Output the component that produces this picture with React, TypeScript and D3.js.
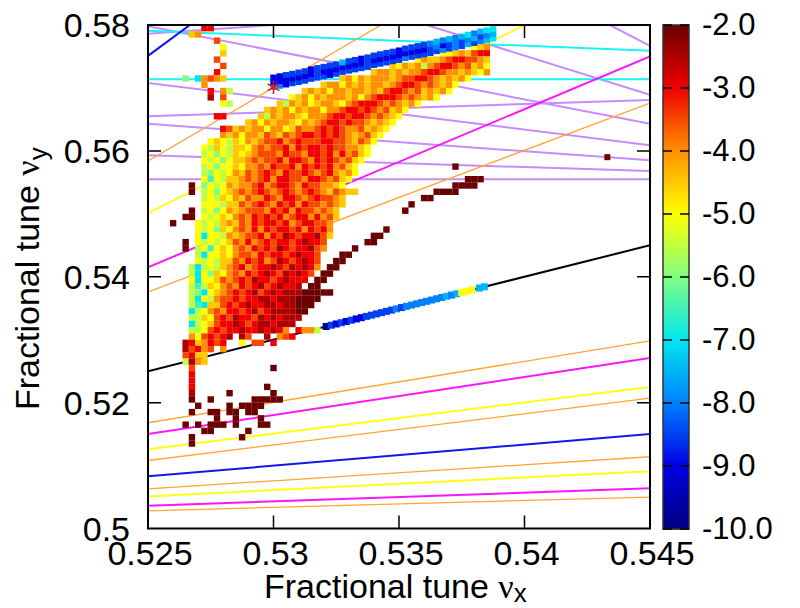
import React from 'react';
import * as d3 from 'd3';

// tick values and labels
const xTicks = [0.525, 0.53, 0.535, 0.54, 0.545];
const xTickLabels = ['0.525', '0.53', '0.535', '0.54', '0.545'];
const yTicks = [0.5, 0.52, 0.54, 0.56, 0.58];
const yTickLabels = ['0.5', '0.52', '0.54', '0.56', '0.58'];
const cbTicks = [-2, -3, -4, -5, -6, -7, -8, -9, -10];

// colour map: log10 value -> colour
const cbStops = [-10, -9, -8, -7, -6, -5, -4, -3, -2];
const cbColors = ['#000080', '#0000e6', '#0080ff', '#00e6f0', '#80ff80', '#ffff00', '#ff9000', '#f00000', '#6a0000'];

// resonance lines, [nux0, nuy0, nux1, nuy1]
const purpleLines = [
  [0.525, 0.5798, 0.545, 0.5643],
  [0.5361, 0.58, 0.545, 0.5689],
  [0.5434, 0.58, 0.545, 0.5767],
  [0.525, 0.5786, 0.53, 0.58],
  [0.525, 0.5655, 0.545, 0.5681],
  [0.525, 0.5708, 0.545, 0.5609],
  [0.525, 0.5643, 0.545, 0.5585],
  [0.525, 0.5593, 0.545, 0.5568],
  [0.525, 0.5555, 0.545, 0.5555],
];
const cyanLines = [
  [0.525, 0.5791, 0.545, 0.5759],
  [0.525, 0.5714, 0.545, 0.5714],
];
const orangeLines = [
  [0.525, 0.5584, 0.53428, 0.58],
  [0.525, 0.5376, 0.545, 0.5676],
  [0.525, 0.5168, 0.545, 0.5298],
  [0.525, 0.5108, 0.545, 0.5207],
  [0.525, 0.5063, 0.545, 0.5114],
  [0.525, 0.5028, 0.545, 0.505],
];
const yellowLines = [
  [0.525, 0.5501, 0.54, 0.58],
  [0.525, 0.5126, 0.545, 0.5225],
  [0.525, 0.5051, 0.545, 0.5091],
];
const magentaLines = [
  [0.525, 0.5415, 0.545, 0.575],
  [0.525, 0.515, 0.545, 0.5271],
  [0.525, 0.5036, 0.545, 0.5064],
];
const blueLines = [
  [0.525, 0.5751, 0.52667, 0.58],
  [0.525, 0.5083, 0.545, 0.515],
];
const blackLines = [[0.525, 0.525, 0.545, 0.545]];

// tune footprint on a grid: each char is a cell, '.' is empty
// value = -2 - n/2 with n read as base 36 digit
const gridX0 = 0.526;
const gridDx = 0.00025;
const gridY0 = 0.5795;
const gridDy = 0.001;
const d = (n: number) => '.'.repeat(n);
const gridRows = [
  d(5) + '22',
  '...54',
  d(7) + '3',
  d(8) + '6' + d(39) + '654',
  d(8) + '5' + d(34) + '66545322',
  d(7) + '3' + d(31) + '645543223345',
  d(8) + '3' + d(26) + '5645474322343546',
  d(7) + '2' + d(24) + '5445454432234454564',
  '..8.a4345' + d(18) + '546454445433223454546',
  d(5) + '4' + d(18) + '5446454544543223434546',
  '......2.47' + d(11) + '545464454454532234354546',
  '......1.3' + d(10) + '654645444546432223434546',
  d(8) + '67' + d(7) + '57454654456432223434546',
  d(15) + '54546454464432232343546',
  d(7) + '22' + d(5) + '57454456444322322343456',
  d(12) + '546454456454322323345456',
  d(8) + '235454464465344323234435456',
  d(8) + '45464453453432232323454356',
  d(6) + '656756454332432333223345346',
  d(5) + '675675564343324232232334456',
  d(5) + '768675654333423342232424356',
  d(5) + '67686554343324223423234356',
  d(5) + '7686656443423324232324356' + d(15) + '0',
  d(5) + '7867645343234233234324546',
  d(5) + '696755434324223342234356' + d(18) + '000',
  '...0.' + '86764544324322342334456' + d(17) + '0000',
  '...0.' + '7686543432343234323453455' + d(12) + '0000',
  d(5) + '76756453442342234323345' + d(12) + '00',
  d(5) + '66675534323423242334345' + d(10) + '0',
  '...0.' + '7686454333423242334345' + d(10) + '0',
  '..00.' + '6765643423232432242435',
  '0...' + '6767545342322324322334',
  '....' + '6768564342423223242324' + d(8) + '0',
  '....' + '6a66745433242312322135' + d(6) + '00',
  '..0.' + '676765342432322321223' + d(6) + '00',
  '..0.' + '769656434232312322134' + d(4) + '0',
  '....' + '7a665643342322321223' + '...00',
  '....' + '67675534232431232123' + '..00',
  '...' + '7a7675432432212312124' + '.00',
  '...' + '7a685643423212312123' + '.00',
  '...' + '6a66534323122321222' + '.00',
  '...' + '797564342321321221' + '.00',
  '...' + '78a6543232132121' + '1100000',
  '...' + '7a674332322112111' + '0000',
  '...' + '79a5532321221121' + '1000',
  '...' + 'a764342232132111' + '100',
  '...' + '7756323122312121' + '11',
  '...' + 'a76532212321121' + '11',
  '...' + '776323221221212' + '4.2447',
  '...4632321.13..1.432',
  '..1254232..6.33.2',
  '..13243.4',
  '..3255',
  '..7145',
  '...3' + d(12) + '0',
  '...2',
  '...2',
  '...2' + d(11) + '0',
  '...1' + d(5) + '0' + d(6) + '0',
  '...0..0' + d(6) + '00000',
  '....0' + d(4) + '0.0000',
  '...0..00.00.00',
  d(7) + '0..0...0',
  '..0.0.000.0...00',
  d(5) + '00' + d(5) + '0',
  '...0' + d(7) + '0',
  '...0',
];

// stable band along the top edge of the footprint
const topBandX0 = 0.53;
const topBandY = [
  0.5709, 0.5711, 0.5713, 0.5715, 0.5717, 0.5719, 0.5722, 0.5724, 0.5726, 0.5728, 0.573, 0.5733,
  0.5735, 0.5737, 0.5739, 0.5741, 0.5744, 0.5746, 0.5748, 0.575, 0.5752, 0.5755, 0.5757, 0.5759,
  0.5761, 0.5763, 0.5766, 0.5768, 0.577, 0.5772, 0.5774, 0.5777, 0.5779, 0.5782, 0.5784, 0.5786,
];
const topBandUpper = 'eeddddeddddbddedddddeddddcbcbcbacbaa';
const topBandMid = 'eeeeeeedeeeeeeedeeeeeeeeedcedcdcbdcb';
const topBandLower = 'bceddddddedddddddddddcdddddcdcdbdcba';

// points sitting on the nux = nuy coupling line
const lineBandX = [
  0.5321, 0.5323, 0.5325, 0.5327, 0.5329, 0.5331, 0.5333, 0.5335, 0.5337, 0.5339, 0.5341, 0.5343, 0.5345,
  0.5347, 0.5349, 0.5351, 0.5353, 0.5355, 0.5357, 0.5359, 0.5361, 0.5363, 0.5365, 0.5367, 0.5369, 0.5371,
  0.5373, 0.5375, 0.5377, 0.5379, 0.5382, 0.5384,
];
const lineBandV = 'gdededeeddddddcdccccccccbcb666bb';

const strayX = [0.5433];
const strayY = [0.559];
const strayV = [-2];
const starX = 0.53;
const starY = 0.5701;

const x = d3.scaleLinear().domain([0.525, 0.545]).range([148, 650]);
const y = d3.scaleLinear().domain([0.5, 0.58]).range([528.5, 25]);
const cbY = d3.scaleLinear().domain([-2, -10]).range([25, 529]);
const color = d3.scaleLinear<string>().domain(cbStops).range(cbColors).clamp(true);
const codeValue = (c: string) => -2 - parseInt(c, 36) / 2;
const font = '"Liberation Sans", Arial, sans-serif';
const greek = '"Liberation Serif", serif';
const cell = 6.4;

function Lines({ data, stroke, width }: { data: number[][]; stroke: string; width: number }) {
  return (
    <g stroke={stroke} strokeWidth={width} fill="none">
      {data.map((l, i) => (
        <line key={i} x1={x(l[0])} y1={y(l[1])} x2={x(l[2])} y2={y(l[3])} />
      ))}
    </g>
  );
}

export default function App() {
  const cbSteps = d3.range(25, 529);
  const star = d3.symbol().type(d3.symbolAsterisk).size(130)() as string;
  return (
    <svg width={800} height={608} style={{ position: 'absolute', left: 0, top: 0, display: 'block', background: '#fff' }} fontFamily={font}>
      <defs>
        <clipPath id="plot">
          <rect x={148} y={25} width={502} height={503.5} />
        </clipPath>
      </defs>
      <g clipPath="url(#plot)">
        <Lines data={purpleLines} stroke="#c68cff" width={2} />
        <Lines data={cyanLines} stroke="#19f5f5" width={2} />
        <Lines data={orangeLines} stroke="#ffa530" width={1.3} />
        <Lines data={yellowLines} stroke="#ffff14" width={2} />
        <Lines data={magentaLines} stroke="#ff14ff" width={2} />
        <Lines data={blueLines} stroke="#1414f0" width={2} />
        <Lines data={blackLines} stroke="#000014" width={2} />
        {gridRows.map((row, j) =>
          row.split('').map((c, i) =>
            c === '.' ? null : (
              <rect
                key={`${j}-${i}`}
                x={x(gridX0 + i * gridDx) - cell / 2}
                y={y(gridY0 - j * gridDy) - cell / 2}
                width={cell}
                height={cell}
                fill={color(codeValue(c))}
              />
            )
          )
        )}
        {topBandY.map((ny, k) =>
          [topBandLower, topBandMid, topBandUpper].map((s, r) => (
            <rect
              key={`b${k}-${r}`}
              x={x(topBandX0 + k * gridDx) - cell / 2}
              y={y(ny + (r - 1) * 0.00075) - 3}
              width={cell}
              height={6}
              fill={color(codeValue(s[k]))}
            />
          ))
        )}
        {lineBandX.map((nx, k) => (
          <rect key={`l${k}`} x={x(nx) - 3.5} y={y(nx) - 3.5} width={7} height={7} fill={color(codeValue(lineBandV[k]))} />
        ))}
        {strayX.map((nx, k) => (
          <rect key={`s${k}`} x={x(nx) - 3} y={y(strayY[k]) - 3} width={6} height={6} fill={color(strayV[k])} />
        ))}
        <path d={star} transform={`translate(${x(starX)},${y(starY)})`} fill="#e81010" stroke="#e81010" strokeWidth={1.5} />
      </g>

      {/* frame and ticks */}
      <rect x={148} y={25} width={502} height={503.5} fill="none" stroke="#000" strokeWidth={2} />
      {xTicks.map((t, i) => (
        <g key={t}>
          {i > 0 && i < xTicks.length - 1 && (
            <path d={`M${x(t)},528.5v-13M${x(t)},25v13`} stroke="#000" strokeWidth={1.5} />
          )}
          <text x={x(t) + 2} y={565} textAnchor="middle" fontSize={34} fill="#000">
            {xTickLabels[i]}
          </text>
        </g>
      ))}
      {yTicks.map((t, i) => (
        <g key={t}>
          {i > 0 && i < yTicks.length - 1 && (
            <path d={`M148,${y(t)}h13M650,${y(t)}h-13`} stroke="#000" strokeWidth={1.5} />
          )}
          <text x={130} y={y(t) + 12} textAnchor="end" fontSize={34} fill="#000">
            {yTickLabels[i]}
          </text>
        </g>
      ))}

      {/* axis titles */}
      <text x={264} y={598} fontSize={34} fill="#000">
        Fractional tune <tspan fontFamily={greek}>ν</tspan>
        <tspan fontSize={26} dy={4}>x</tspan>
      </text>
      <text transform="translate(39,410) rotate(-90)" fontSize={34} fill="#000">
        Fractional tune <tspan fontFamily={greek}>ν</tspan>
        <tspan fontSize={26} dy={8}>y</tspan>
      </text>

      {/* colour bar */}
      {cbSteps.map((py) => (
        <rect key={py} x={663} y={py} width={26} height={1.5} fill={color(cbY.invert(py + 0.5))} />
      ))}
      <rect x={663} y={25} width={26} height={504} fill="none" stroke="#333" strokeWidth={1.5} />
      {cbTicks.map((t) => (
        <g key={t}>
          <path d={`M663,${cbY(t)}h9M689,${cbY(t)}h-9`} stroke="#000" strokeWidth={1.5} />
          <text x={702} y={cbY(t) + 10} fontSize={31} fill="#000">
            {t.toFixed(1)}
          </text>
        </g>
      ))}
    </svg>
  );
}
